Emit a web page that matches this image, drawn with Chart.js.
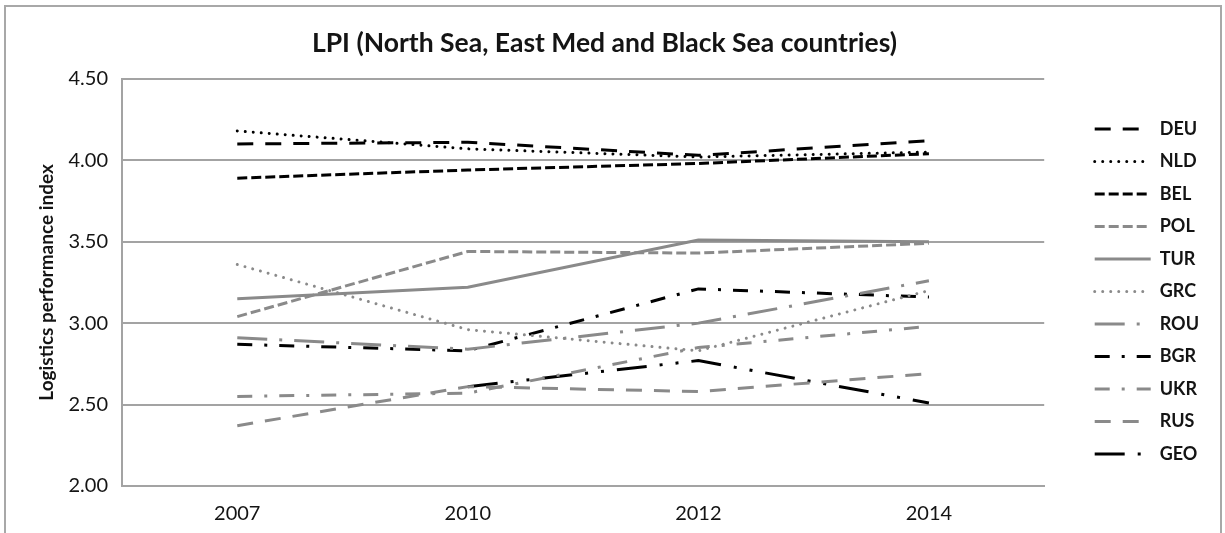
<!DOCTYPE html>
<html>
<head>
<meta charset="utf-8">
<script src="https://cdn.jsdelivr.net/npm/chart.js@4/dist/chart.umd.min.js"></script>
<style>
  html, body { margin: 0; padding: 0; background: #ffffff; }
  #wrap { width: 1225px; height: 533px; }
</style>
</head>
<body>
<div id="wrap"><canvas id="c" width="1225" height="533"></canvas></div>
<script>
// ---- data ----
const years = ['2007', '2010', '2012', '2014'];
const countries = ['DEU', 'NLD', 'BEL', 'POL', 'TUR', 'GRC', 'ROU', 'BGR', 'UKR', 'RUS', 'GEO'];
const DEU = [4.10, 4.11, 4.03, 4.12];
const NLD = [4.18, 4.07, 4.02, 4.05];
const BEL = [3.89, 3.94, 3.98, 4.04];
const POL = [3.04, 3.44, 3.43, 3.49];
const TUR = [3.15, 3.22, 3.51, 3.50];
const GRC = [3.36, 2.96, 2.83, 3.20];
const ROU = [2.91, 2.84, 3.00, 3.26];
const BGR = [2.87, 2.83, 3.21, 3.16];
const UKR = [2.55, 2.57, 2.85, 2.98];
const RUS = [2.37, 2.61, 2.58, 2.69];
const GEO = [null, 2.61, 2.77, 2.51];
const yTicks = [2.00, 2.50, 3.00, 3.50, 4.00, 4.50];

const chartTitle = 'LPI (North Sea, East Med and Black Sea countries)';
const yTitle = 'Logistics performance index';

// ---- styles ----
const BLACK = '#000000';
const GRAY = '#8a8a8a';
const GRID = '#a3a3a3';
const TEXT = '#141414';
const FONT = 'Lato, "Open Sans", sans-serif';

const styles = {
  DEU: { color: BLACK, dash: [16, 12], cap: 'butt' },
  NLD: { color: BLACK, dash: [0.01, 8], cap: 'round' },
  BEL: { color: BLACK, dash: [10, 4], cap: 'butt' },
  POL: { color: GRAY, dash: [10, 4], cap: 'butt' },
  TUR: { color: GRAY, dash: [], cap: 'butt' },
  GRC: { color: GRAY, dash: [0.01, 8], cap: 'round' },
  ROU: { color: GRAY, dash: [30, 12, 3, 12], cap: 'butt' },
  BGR: { color: BLACK, dash: [15, 12, 3, 12], cap: 'butt' },
  UKR: { color: GRAY, dash: [15, 12, 3, 12], cap: 'butt' },
  RUS: { color: GRAY, dash: [16, 12], cap: 'butt' },
  GEO: { color: BLACK, dash: [30, 13, 3, 13, 3, 13], cap: 'butt' }
};
const seriesValues = { DEU, NLD, BEL, POL, TUR, GRC, ROU, BGR, UKR, RUS, GEO };

const datasets = countries.map(name => ({
  label: name,
  data: seriesValues[name],
  borderColor: styles[name].color,
  backgroundColor: styles[name].color,
  borderWidth: 3,
  borderDash: styles[name].dash,
  borderCapStyle: styles[name].cap,
  borderJoinStyle: 'miter',
  pointRadius: 0,
  pointHoverRadius: 0,
  tension: 0,
  fill: false,
  spanGaps: false
}));

const outerBorder = {
  id: 'outerBorder',
  beforeDraw(chart) {
    const ctx = chart.ctx;
    ctx.save();
    ctx.fillStyle = '#ffffff';
    ctx.fillRect(0, 0, chart.width, chart.height);
    ctx.strokeStyle = '#a8a8a8';
    ctx.lineWidth = 2;
    ctx.strokeRect(5, 6, 1216, 600);
    ctx.restore();
  }
};

new Chart(document.getElementById('c'), {
  type: 'line',
  data: { labels: years, datasets },
  plugins: [outerBorder],
  options: {
    responsive: false,
    animation: false,
    devicePixelRatio: 1,
    layout: { padding: { left: 0, right: 16, top: 0, bottom: 0 } },
    plugins: {
      tooltip: { enabled: false },
      title: {
        display: true,
        text: chartTitle,
        color: TEXT,
        font: { family: FONT, size: 26.5, weight: 'bold', lineHeight: 1.2 },
        padding: { top: 28, bottom: 19 }
      },
      legend: {
        display: true,
        position: 'right',
        align: 'center',
        title: { display: true, text: '', font: { size: 10, lineHeight: 1.2 }, padding: { top: 38, bottom: 0 } },
        labels: {
          usePointStyle: true,
          pointStyle: 'line',
          pointStyleWidth: 56,
          boxWidth: 56,
          padding: 14.5,
          color: TEXT,
          font: { family: FONT, size: 18, weight: 'bold' },
          generateLabels(chart) {
            return chart.data.datasets.map((ds, i) => ({
              text: ds.label,
              datasetIndex: i,
              hidden: false,
              fillStyle: ds.borderColor,
              strokeStyle: ds.borderColor,
              lineWidth: ds.borderWidth,
              lineDash: ds.borderDash,
              lineCap: ds.borderCapStyle,
              lineJoin: 'miter',
              pointStyle: 'line',
              fontColor: TEXT
            }));
          }
        }
      }
    },
    scales: {
      x: {
        type: 'category',
        offset: true,
        grid: { display: false, drawTicks: false },
        border: { display: true, color: GRID, width: 2 },
        ticks: { color: TEXT, padding: 16, font: { family: FONT, size: 20 }, maxRotation: 0 },
        afterFit(s) { s.height = 47; }
      },
      y: {
        type: 'linear',
        position: 'left',
        min: yTicks[0],
        max: yTicks[yTicks.length - 1],
        afterBuildTicks(s) { s.ticks = yTicks.map(v => ({ value: v })); },
        grid: { display: true, color: GRID, lineWidth: 2, drawTicks: false },
        border: { display: true, color: GRID, width: 2 },
        ticks: {
          color: TEXT,
          padding: 14,
          font: { family: FONT, size: 20 },
          callback: v => Number(v).toFixed(2)
        },
        title: {
          display: true,
          text: yTitle,
          color: TEXT,
          font: { family: FONT, size: 19, weight: 'bold', lineHeight: 1.2 },
          padding: { top: 35, bottom: 0 }
        },
        afterFit(s) { s.width = 122; }
      },
      yRightGap: {
        type: 'linear',
        position: 'right',
        display: true,
        grid: { display: false, drawTicks: false },
        border: { display: false },
        ticks: { display: false },
        title: { display: false },
        afterFit(s) { s.width = 36; }
      }
    }
  }
});
</script>
</body>
</html>
